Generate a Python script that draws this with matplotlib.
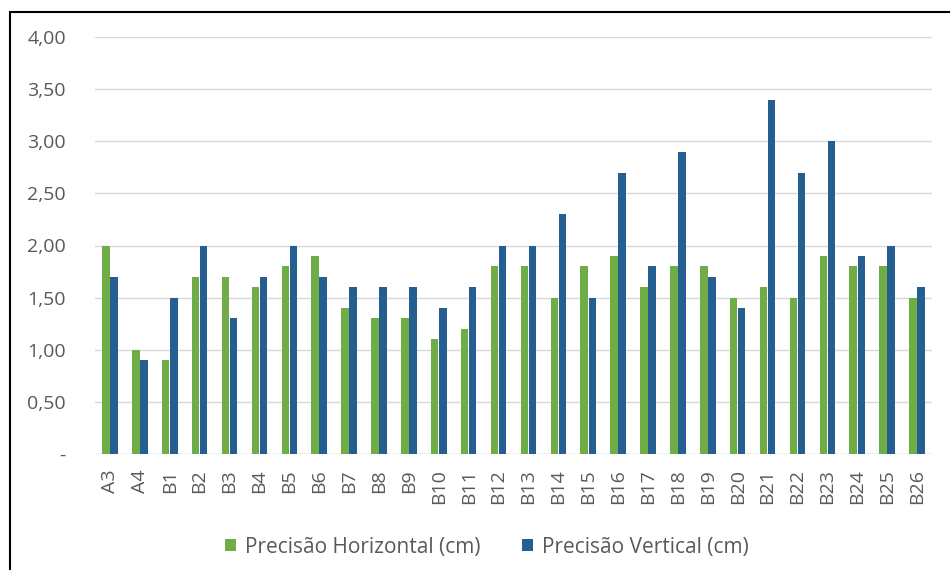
import numpy as np
import matplotlib.pyplot as plt
from matplotlib.patches import Rectangle
from matplotlib.ticker import FuncFormatter

pontos = ['A3', 'A4', 'B1', 'B2', 'B3', 'B4', 'B5', 'B6', 'B7', 'B8', 'B9', 'B10',
          'B11', 'B12', 'B13', 'B14', 'B15', 'B16', 'B17', 'B18', 'B19', 'B20',
          'B21', 'B22', 'B23', 'B24', 'B25', 'B26']
horizontal = [2.0, 1.0, 0.9, 1.7, 1.7, 1.6, 1.8, 1.9, 1.4, 1.3, 1.3, 1.1,
              1.2, 1.8, 1.8, 1.5, 1.8, 1.9, 1.6, 1.8, 1.8, 1.5,
              1.6, 1.5, 1.9, 1.8, 1.8, 1.5]
vertical = [1.7, 0.9, 1.5, 2.0, 1.3, 1.7, 2.0, 1.7, 1.6, 1.6, 1.6, 1.4,
            1.6, 2.0, 2.0, 2.3, 1.5, 2.7, 1.8, 2.9, 1.7, 1.4,
            3.4, 2.7, 3.0, 1.9, 2.0, 1.6]
yticks = [0, 0.5, 1.0, 1.5, 2.0, 2.5, 3.0, 3.5, 4.0]

plt.rcParams['font.family'] = ['Open Sans', 'DejaVu Sans']

fig = plt.figure(figsize=(9.5, 5.7), dpi=100)
ax = fig.add_axes([95/950, 1-454/570, 837/950, 417/570])

x = np.arange(len(pontos))
w = 0.25
ax.bar(x - w/2 - 0.01, horizontal, w, color='#70AD47', label='Precisão Horizontal (cm)', zorder=3)
ax.bar(x + w/2 + 0.01, vertical, w, color='#255E91', label='Precisão Vertical (cm)', zorder=3)

ax.set_xlim(-0.5, len(pontos) - 0.5)
ax.set_ylim(0, 4.0)
ax.set_yticks(yticks)
ax.yaxis.set_major_formatter(FuncFormatter(lambda v, p: '-' if v == 0 else f'{v:.2f}'.replace('.', ',')))
ax.set_xticks(x)
ax.set_xticklabels(pontos, rotation=90)
ax.grid(axis='y', color='#D9D9D9', linewidth=1, zorder=0)
for s in ax.spines.values():
    s.set_visible(False)
ax.axhline(0, color='#D9D9D9', linewidth=1, zorder=1)
ax.tick_params(axis='both', length=0, colors='#595959', labelsize=14)
ax.tick_params(axis='y', pad=21)
ax.tick_params(axis='x', pad=11)

fig.legend(loc='center', bbox_to_anchor=(487/950, 1-547/570), ncol=2, frameon=False,
           fontsize=15, labelcolor='#595959', handlelength=0.5, handleheight=0.5,
           handletextpad=0.45, columnspacing=2.0)

fig.patches.append(Rectangle((10/950, -0.01), 1.0, 1-12/570 + 0.01, transform=fig.transFigure,
                             fill=False, edgecolor='black', linewidth=1.5))

fig.savefig('out.png', dpi=100)
